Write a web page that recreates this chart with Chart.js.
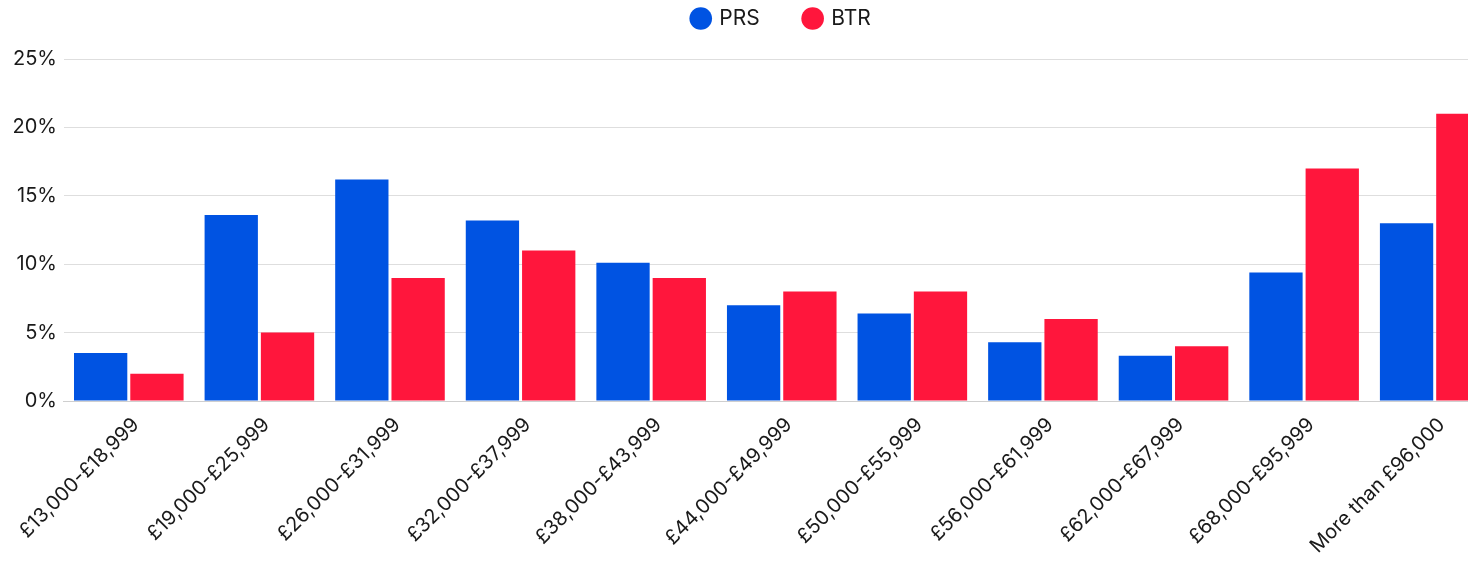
<!DOCTYPE html>
<html>
<head>
<meta charset="utf-8">
<title>PRS vs BTR household income</title>
<script src="https://cdn.jsdelivr.net/npm/chart.js@4.4.1/dist/chart.umd.min.js"></script>
<style>
    html, body { margin: 0; padding: 0; background: #fff; overflow: hidden; }
    /* canvas is a little wider than the window, the last bar gets cut like in the source */
    #wrap { width: 1500px; height: 566px; }
</style>
</head>
<body>
<div id="wrap"><canvas id="incomeChart"></canvas></div>
<script>
// Income bands and share of renters in each band (%)
const incomeBands = [
    '£13,000-£18,999', '£19,000-£25,999', '£26,000-£31,999', '£32,000-£37,999',
    '£38,000-£43,999', '£44,000-£49,999', '£50,000-£55,999', '£56,000-£61,999',
    '£62,000-£67,999', '£68,000-£95,999', 'More than £96,000'
];
const prsShare = [3.5, 13.6, 16.2, 13.2, 10.1, 7.0, 6.4, 4.3, 3.3, 9.4, 13.0];
const btrShare = [2, 5, 9, 11, 9, 8, 8, 6, 4, 17, 21];
const yTicks = [0, 5, 10, 15, 20, 25];

const textColor = '#1a1a1a';

document.addEventListener('DOMContentLoaded', function() {
    const canvas = document.getElementById('incomeChart');

    new Chart(canvas, {
        type: 'bar',
        data: {
            labels: incomeBands,
            datasets: [{
                label: 'PRS',
                data: prsShare,
                backgroundColor: '#0053e2',
                barPercentage: 0.947,
                categoryPercentage: 0.862
            }, {
                label: 'BTR',
                data: btrShare,
                backgroundColor: '#ff163c',
                barPercentage: 0.947,
                categoryPercentage: 0.862
            }]
        },
        options: {
            responsive: true,
            maintainAspectRatio: false,
            animation: false,
            layout: {
                // negative top keeps the wide legend spacing without pushing it down
                padding: { top: -37, left: 0, right: 0, bottom: 0 }
            },
            scales: {
                y: {
                    min: 0,
                    max: 25,
                    afterBuildTicks: axis => {
                        axis.ticks = yTicks.map(v => ({ value: v }));
                    },
                    afterFit: axis => { axis.width = 63.5; },
                    border: { display: false },
                    grid: {
                        color: '#dedede',
                        drawTicks: false
                    },
                    ticks: {
                        padding: 6.5,
                        color: textColor,
                        font: { family: 'Inter', size: 20 },
                        callback: value => value + '%'
                    }
                },
                x: {
                    afterFit: axis => { axis.height = 165; },
                    border: { color: '#cfcfcf' },
                    grid: { display: false },
                    ticks: {
                        autoSkip: false,
                        maxRotation: 45,
                        minRotation: 45,
                        padding: 4,
                        labelOffset: 7,
                        color: textColor,
                        font: { family: 'Inter', size: 20 }
                    }
                }
            },
            plugins: {
                legend: {
                    position: 'top',
                    fullSize: false,
                    labels: {
                        usePointStyle: true,
                        pointStyle: 'circle',
                        boxWidth: 16,
                        boxHeight: 16,
                        padding: 45,
                        color: textColor,
                        font: { family: 'Inter', size: 21 }
                    }
                },
                // empty title used as a spacer between legend and plot
                title: {
                    display: true,
                    text: '',
                    weight: 500,
                    padding: 0,
                    font: { size: 20, lineHeight: 1 }
                },
                tooltip: { enabled: false }
            }
        }
    });
});
</script>
</body>
</html>
